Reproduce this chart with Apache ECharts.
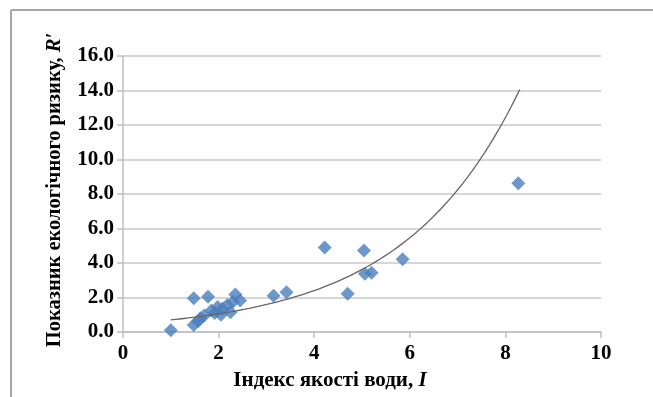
<!DOCTYPE html>
<html>
<head>
<meta charset="utf-8">
<script src="https://cdn.jsdelivr.net/npm/echarts@6/dist/echarts.min.js"></script>
<style>html,body{margin:0;padding:0;background:#fff;}#c{width:653px;height:397px;}</style>
</head>
<body>
<div id="c"></div>
<script>
// Water quality index I (x) and ecological risk R' (y)
var waterIndex = [1.00, 1.48, 1.78, 2.35, 2.45, 1.48, 1.57, 1.70, 1.85, 1.98, 2.08, 2.25, 2.18, 2.30, 2.05, 1.62, 1.92, 3.15, 3.42, 4.22, 4.70, 5.04, 5.06, 5.20, 5.85, 8.27];
var riskValue  = [0.10, 1.95, 2.05, 2.18, 1.82, 0.40, 0.62, 0.95, 1.25, 1.45, 1.35, 1.15, 1.55, 1.75, 1.00, 0.80, 1.10, 2.10, 2.30, 4.90, 2.22, 4.72, 3.38, 3.43, 4.22, 8.62];
// Exponential trendline y = a*exp(b*x), parameters
var trendA = 0.464, trendB = 0.411, trendFrom = 1.0, trendTo = 8.3;
var xTicks = [0, 2, 4, 6, 8, 10];
var yTicks = [0, 2, 4, 6, 8, 10, 12, 14, 16];

var pts = waterIndex.map(function (x, i) { return [x, riskValue[i]]; });
var trend = [];
for (var k = 0; k <= 80; k++) {
  var x = trendFrom + (trendTo - trendFrom) * k / 80;
  trend.push([x, trendA * Math.exp(trendB * x)]);
}

var font = '"Liberation Serif","Times New Roman",serif';
var chart = echarts.init(document.getElementById('c'));
chart.setOption({
  animation: false,
  backgroundColor: '#fff',
  graphic: [
    { type: 'line', shape: { x1: 11, y1: 10, x2: 653, y2: 10 }, style: { stroke: '#a6a6a6', lineWidth: 2 } },
    { type: 'line', shape: { x1: 11, y1: 10, x2: 11, y2: 397 }, style: { stroke: '#a6a6a6', lineWidth: 2 } }
  ],
  grid: { left: 123, right: 52, top: 56, bottom: 65 },
  xAxis: {
    type: 'value', min: xTicks[0], max: xTicks[xTicks.length - 1], interval: 2,
    name: 'Індекс якості води, {i|I}',
    nameLocation: 'middle', nameGap: 38,
    nameTextStyle: {
      fontFamily: font, fontWeight: 'bold', fontSize: 21, color: '#000',
      padding: [0, 64, 0, 0],
      rich: { i: { fontFamily: font, fontWeight: 'bold', fontStyle: 'italic', fontSize: 21, color: '#000' } }
    },
    axisLine: { show: true, lineStyle: { color: '#bfbfbf', width: 1.5 } },
    axisTick: { show: true, inside: false, length: 6, lineStyle: { color: '#bfbfbf', width: 1.5 } },
    splitLine: { show: false },
    axisLabel: { margin: 11, fontFamily: font, fontWeight: 'bold', fontSize: 21, color: '#000' }
  },
  yAxis: {
    type: 'value', min: yTicks[0], max: yTicks[yTicks.length - 1], interval: 2,
    name: 'Показник екологічного ризику, {i|R′}',
    nameLocation: 'middle', nameGap: 58, nameRotate: 90,
    nameTextStyle: {
      fontFamily: font, fontWeight: 'bold', fontSize: 20.5, color: '#000',
      padding: [0, 0, 0, 8],
      rich: { i: { fontFamily: font, fontWeight: 'bold', fontStyle: 'italic', fontSize: 20.5, color: '#000' } }
    },
    axisLine: { show: true, lineStyle: { color: '#bfbfbf', width: 1.5 } },
    axisTick: { show: true, inside: false, length: 6, lineStyle: { color: '#bfbfbf', width: 1.5 } },
    splitLine: { show: true, lineStyle: { color: '#c8c8c8', width: 1.5 } },
    axisLabel: {
      margin: 9, fontFamily: font, fontWeight: 'bold', fontSize: 21, color: '#000',
      formatter: function (v) { return v.toFixed(1); }
    }
  },
  series: [
    {
      type: 'line', data: trend, showSymbol: false, symbol: 'none', smooth: false,
      lineStyle: { color: '#666666', width: 1.3 }, z: 3
    },
    {
      type: 'scatter', data: pts, symbol: 'diamond', symbolSize: 14,
      itemStyle: { color: '#4a7ebb' }, z: 2
    }
  ]
});
</script>
</body>
</html>
